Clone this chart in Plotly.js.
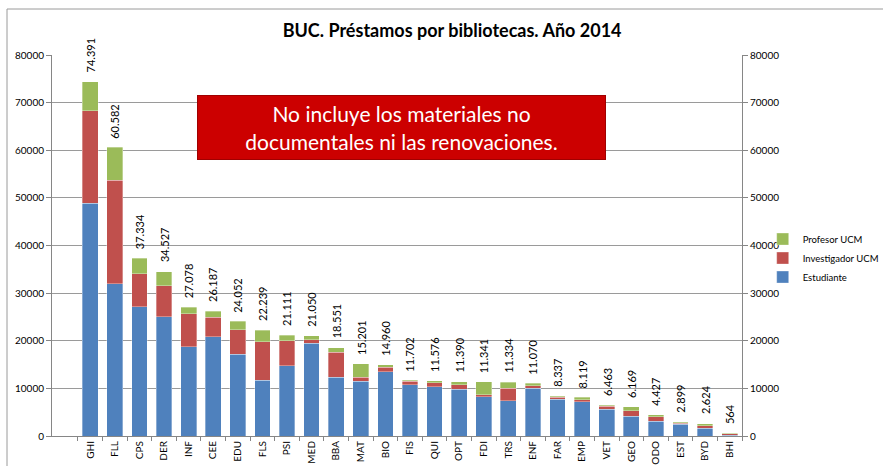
<!DOCTYPE html>
<html><head><meta charset="utf-8">
<script src="https://cdn.plot.ly/plotly-3.0.1.min.js"></script>
<style>html,body{margin:0;padding:0;background:#fff}#c{width:883px;height:466px}</style>
</head><body><div id="c"></div>
<script>
const categories = ["GHI","FLL","CPS","DER","INF","CEE","EDU","FLS","PSI","MED","BBA","MAT","BIO","FIS","QUI","OPT","FDI","TRS","ENF","FAR","EMP","VET","GEO","ODO","EST","BYD","BHI"];
const totals = [74391,60582,37334,34527,27078,26187,24052,22239,21111,21050,18551,15201,14960,11702,11576,11390,11341,11334,11070,8337,8119,6463,6169,4427,2899,2624,564];
const estudiante = [48900,32000,27100,25000,18700,20850,17150,11700,14700,19450,12300,11500,13450,10800,10350,9850,8250,7400,10050,7750,7200,5650,4100,3050,2450,1600,150];
const investigador = [19400,21700,7000,6500,7000,4100,5150,8050,5300,800,5250,850,1000,700,800,900,400,2650,550,350,450,600,1200,1000,250,550,330];
const profesor = totals.map((t,i)=>t-estudiante[i]-investigador[i]);
const yTicks = [0,10000,20000,30000,40000,50000,60000,70000,80000];

function fmt(n){return String(n).replace(/\B(?=(\d{3})+(?!\d))/g,'.');}

const F = 'Lato, "Open Sans", sans-serif';
const lineStyle = {color:'rgba(255,255,255,0.55)', width:0.6};
const traces = [
  {type:'bar', name:'Estudiante', x:categories, y:estudiante, marker:{color:'#4F81BD', line:lineStyle}},
  {type:'bar', name:'Investigador UCM', x:categories, y:investigador, marker:{color:'#C0504D', line:lineStyle}},
  {type:'bar', name:'Profesor UCM', x:categories, y:profesor, marker:{color:'#9BBB59', line:lineStyle}},
  {type:'scatter', x:[categories[0]], y:[0], yaxis:'y2', mode:'markers', marker:{opacity:0}, showlegend:false, hoverinfo:'skip'}
];

const annotations = categories.map((c,i)=>({
  x:c, y:totals[i], xref:'x', yref:'y', text:fmt(totals[i]), textangle:-90,
  showarrow:false, yanchor:'bottom', yshift:7, font:{family:F, size:11, color:'#000'}
}));
annotations.push({
  xref:'paper', yref:'paper', x:0.5065, y:0.8097, xanchor:'center', yanchor:'middle',
  text:'No incluye los materiales no<br>documentales ni las renovaciones.', showarrow:false,
  bgcolor:'#CC0000', bordercolor:'#A00000', borderwidth:1, borderpad:0, width:407, height:63,
  font:{family:F, size:21, color:'#fff'}
});

const layout = {
  width:883, height:466,
  margin:{l:52, r:141, t:55, b:30, autoexpand:false},
  paper_bgcolor:'#fff', plot_bgcolor:'#fff',
  title:{text:'<b>BUC. Préstamos por bibliotecas. Año 2014</b>', x:0.512, xanchor:'center', y:0.935, yanchor:'middle', font:{family:F, size:18, color:'#000'}},
  barmode:'stack', bargap:0.36,
  font:{family:F, size:10, color:'#000'},
  xaxis:{type:'category', automargin:false, showline:true, linecolor:'#868686', ticks:'outside', ticklen:4, tickcolor:'#868686', tickson:'boundaries', tickangle:-90, tickfont:{family:F, size:10}, showgrid:false, fixedrange:true},
  yaxis:{automargin:false, range:[0,80000], tickvals:yTicks, ticktext:yTicks.map(String), showline:true, linecolor:'#868686', ticks:'outside', ticklen:5, tickcolor:'#868686', showgrid:true, gridcolor:'#9a9a9a', gridwidth:1, zeroline:false, tickfont:{family:F, size:10}},
  yaxis2:{automargin:false, range:[0,80000], overlaying:'y', side:'right', anchor:'x', tickvals:yTicks, ticktext:yTicks.map(String), showline:true, linecolor:'#868686', ticks:'outside', ticklen:5, tickcolor:'#868686', showgrid:false, zeroline:false, tickfont:{family:F, size:10}},
  showlegend:true,
  legend:{x:1.03, y:0.555, xanchor:'left', yanchor:'top', traceorder:'reversed', font:{family:F, size:9.5}, itemwidth:30, tracegroupgap:0, bgcolor:'rgba(0,0,0,0)'},
  annotations:annotations,
  shapes:[{type:'rect', xref:'paper', yref:'paper', x0:-0.0652, x1:1.4, y0:-0.2, y1:1.1207, line:{color:'#9a9a9a', width:1}}]
};
Plotly.newPlot('c', traces, layout, {displayModeBar:false, staticPlot:true});
</script></body></html>
